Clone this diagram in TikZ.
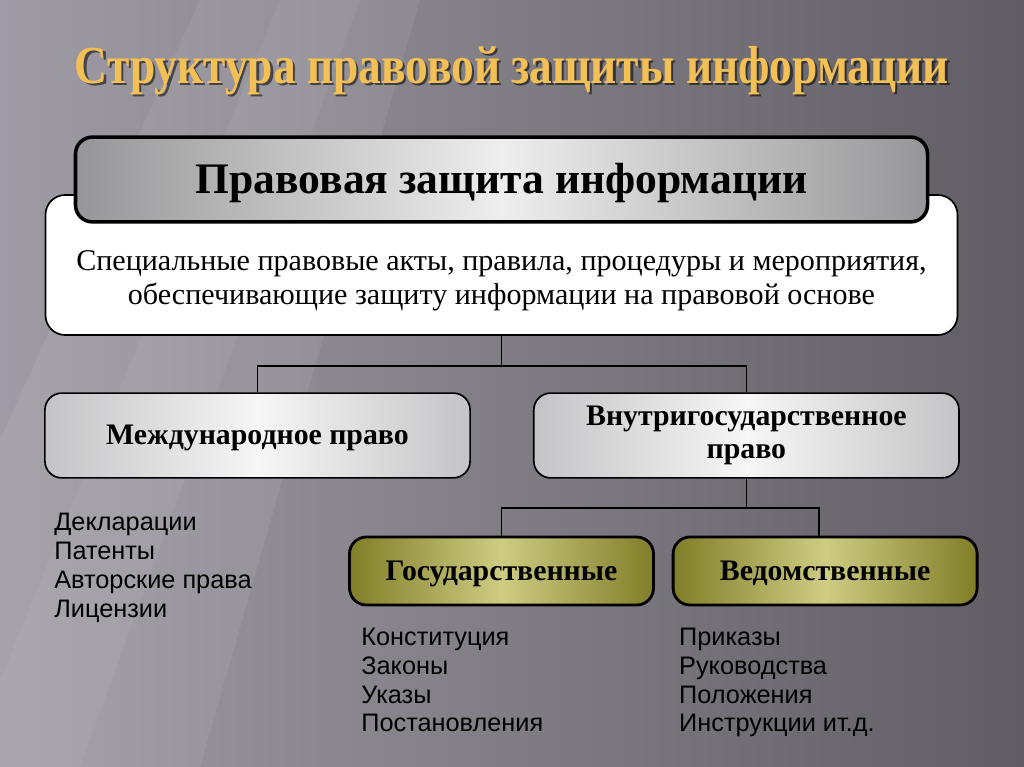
\documentclass[tikz,border=0pt]{standalone}
\usepackage{fontspec}
\setmainfont{Liberation Serif}
\setsansfont{Liberation Sans}
\usetikzlibrary{positioning,calc}
\definecolor{slddark} {RGB}{ 96, 93,100}
\definecolor{sldlight}{RGB}{160,156,165}
\definecolor{ttlgold} {RGB}{242,192, 84}
\definecolor{boxgrey} {RGB}{196,196,198}
\definecolor{boxlight}{RGB}{246,246,246}
\definecolor{hdrgrey} {RGB}{150,150,152}
\definecolor{hdrlight}{RGB}{238,238,238}
\definecolor{olvdark} {RGB}{128,126, 40}
\definecolor{olvlight}{RGB}{206,204,130}
\newcommand\ttltext{\scalebox{0.85}[1]{Структура правовой защиты информации}}
\tikzset{
  ttl/.style={text=ttlgold,font=\fontsize{38}{42}\selectfont\bfseries},
  ttlshadow/.style={ttl,text=black,opacity=0.55},
  hdr/.style={draw=black,line width=2.5pt,rounded corners=12pt,
              text height=27pt,text depth=7.5pt,
              left color=hdrgrey,right color=hdrgrey,middle color=hdrlight,
              minimum width=21.3cm,minimum height=2.12cm,
              font=\fontsize{31}{35}\selectfont\bfseries},
  spc/.style={draw=black,line width=1.2pt,fill=white,rounded corners=14pt,
              minimum width=22.8cm,minimum height=3.5cm},
  spctxt/.style={align=center,font=\fontsize{21.4}{24.5}\selectfont},
  blk/.style={draw=black,line width=1.2pt,rounded corners=12pt,
              left color=boxgrey,right color=boxgrey,middle color=boxlight,
              minimum width=10.63cm,minimum height=2.12cm,align=center,
              font=\fontsize{21.2}{23}\selectfont\bfseries},
  onel/.style={text height=18.5pt,text depth=5pt},
  blkolive/.style={blk,line width=2pt,left color=olvdark,right color=olvdark,
              middle color=olvlight,minimum width=7.6cm,minimum height=1.7cm,onel},
  lst/.style={inner sep=0pt,align=left,text=black,
              font=\sffamily\fontsize{18}{20.6}\selectfont},
  lnk/.style={draw=black,line width=1.2pt},
}
\begin{document}
\begin{tikzpicture}
  \useasboundingbox (0,0) rectangle (25.6,-19.175);
  \fill[left color=sldlight,right color=slddark] (0,0) rectangle (25.6,-19.175);
  \fill[white,opacity=0.07] (5,0) -- (10.5,0) -- (5,-19.175) -- (0,-19.175) -- (0,-11) -- cycle;
  \fill[white,opacity=0.05] (7,0) -- (9,0) -- (2,-19.175) -- (0,-19.175) -- (0,-17) -- cycle;

  \node[ttlshadow] (TTLS) at (12.86,-1.83) {\ttltext};
  \node[ttl] (TTL) at (12.8,-1.77) {\ttltext};

  \node[spc] (SPC) at (12.5375,-6.625) {};
  \node[spctxt] (SPCT) at ($(SPC.center)+(0,-0.4)$)
    {Специальные правовые акты, правила, процедуры и мероприятия,\\
     обеспечивающие защиту информации на правовой основе};
  \node[hdr] (HDR) at (12.5375,-4.4875) {Правовая защита информации};

  \node[blk,onel] (INT) at (6.4375,-10.8875) {Международное право};
  \node[blk,right=1.55cm of INT] (DOM) {Внутригосударственное\\право};
  \node[blkolive] (GOS) at (12.5375,-14.275) {Государственные};
  \node[blkolive,right=0.42cm of GOS] (VED) {Ведомственные};

  \coordinate (J1) at ($(SPC.south)+(0,-0.75)$);
  \draw[lnk] (SPC.south) -- (J1);
  \draw[lnk] (INT.north) |- (J1) -| (DOM.north);
  \coordinate (J2) at ($(DOM.south)+(0,-0.725)$);
  \draw[lnk] (DOM.south) -- (J2);
  \draw[lnk] (GOS.north) |- (J2) -| ([xshift=-0.15cm]VED.north);

  \node[lst,below right=0.85cm and 0.25cm of INT.south west] (LINT)
    {Декларации\\Патенты\\Авторские права\\Лицензии};
  \node[lst,below right=0.525cm and 0.325cm of GOS.south west] (LGOS)
    {Конституция\\Законы\\Указы\\Постановления};
  \node[lst,below right=0.525cm and 0.18cm of VED.south west] (LVED)
    {Приказы\\Руководства\\Положения\\Инструкции ит.д.};
\end{tikzpicture}
\end{document}
